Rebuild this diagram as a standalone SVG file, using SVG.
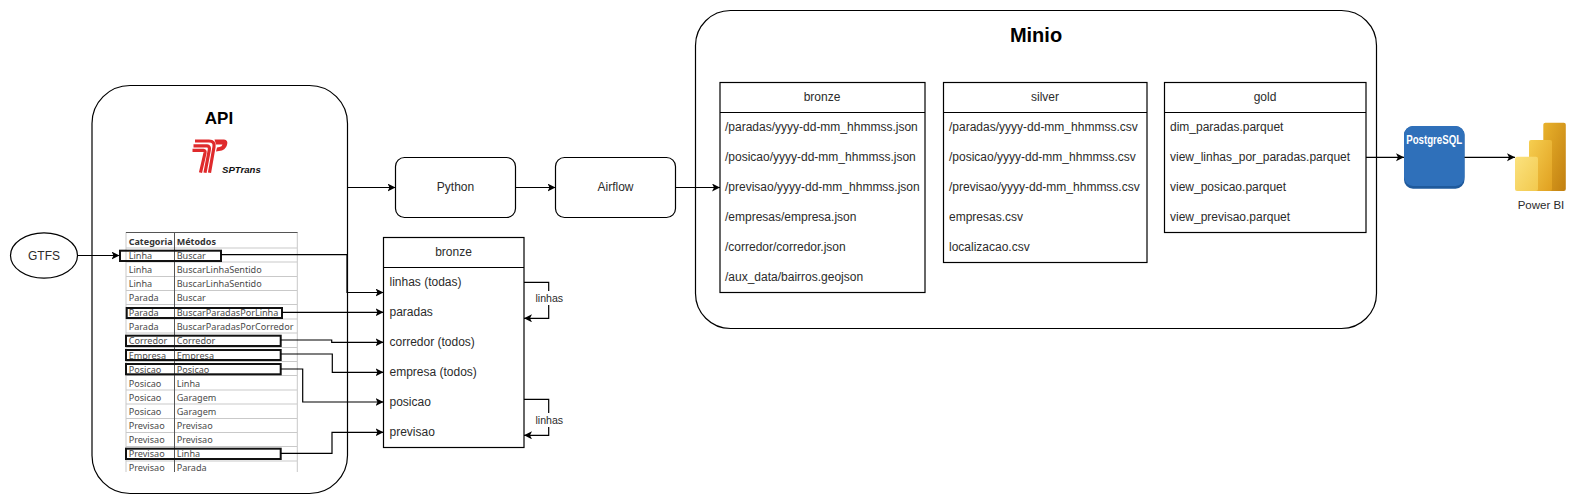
<svg xmlns="http://www.w3.org/2000/svg" width="1577" height="504" viewBox="0 0 1577 504">
<defs>
<style>
text{font-family:"Liberation Sans",Arial,sans-serif;font-size:12px;fill:#2b2b2b;dominant-baseline:central}
.c{text-anchor:middle}
.box{fill:#fff;stroke:#000;stroke-width:1.2}
.div{stroke:#000;stroke-width:1.2;fill:none}
.title{font-weight:bold;fill:#000}
.line{fill:none;stroke:#000;stroke-width:1.2;marker-end:url(#arrow)}
.lbl{font-size:10.6px}
.t{font-family:"Noto Sans","Open Sans",sans-serif;font-size:9.1px;fill:#4a4a4a}
.th{font-family:"Noto Sans","Open Sans",sans-serif;font-size:9px;font-weight:bold;fill:#333}
.grid{stroke:#c9c9c9;stroke-width:1;fill:none}
.hl{fill:none;stroke:#111;stroke-width:2}
.logo{fill:none;stroke:#df2a2c;stroke-width:3.2}
</style>
<marker id="arrow" markerUnits="userSpaceOnUse" markerWidth="9" markerHeight="9" refX="8" refY="4" orient="auto">
<path d="M8,4 L0,0 L2,4 L0,8 Z" fill="#000"/>
</marker>
<linearGradient id="pb1" x1="0" y1="0" x2="1" y2="1"><stop offset="0" stop-color="#e9b22c"/><stop offset="1" stop-color="#c17f10"/></linearGradient>
<linearGradient id="pb2" x1="0" y1="0" x2="1" y2="1"><stop offset="0" stop-color="#f6ce50"/><stop offset="1" stop-color="#e0a020"/></linearGradient>
<linearGradient id="pb3" x1="0" y1="0" x2="1" y2="1"><stop offset="0" stop-color="#fbe27e"/><stop offset="1" stop-color="#f2c94e"/></linearGradient>
</defs>
<rect width="1577" height="504" fill="#fff"/>

<g id="api">
<rect class="box" x="92" y="85.500" width="255.500" height="408" rx="38"/>
<text class="c title" x="219" y="118" style="font-size:17px">API</text>
<g id="sptrans-logo">
<path class="logo" d="M195,141 H209 Q215,141 214,147 L209.500,172.700"/>
<path class="logo" d="M193.500,145.800 H207 Q210,146 209.300,150 L205,172.700"/>
<path class="logo" d="M192.500,150.300 H203.500 Q205.500,150.500 205,153 L200.500,172.700"/>
<path d="M214.500,139.500 H224 Q228.500,140 227,145 Q225.500,150.500 219,151 L216,151.500 L217,147.500 L219.500,147 Q222,146.500 222.500,144.500 L216,144.500 Z" fill="#df2a2c"/>
<text x="222" y="169.500" style="font-size:9.600px;font-weight:bold;font-style:italic;fill:#111">SPTrans</text>
</g>
<g id="methods-table">
<path class="grid" d="M126,232 V472 M297.300,232 V472 M126,248 H297 M126,262 H297 M126,276.500 H297 M126,290.500 H297 M126,304.500 H297 M126,319 H297 M126,333 H297 M126,347.500 H297 M126,361.500 H297 M126,375.500 H297 M126,390 H297 M126,404 H297 M126,418.500 H297 M126,432.500 H297 M126,446.500 H297 M126,461 H297"/>
<path d="M126,232.500 H297.500 M174.500,232 V472" stroke="#555" stroke-width="1" fill="none"/>
<text class="th" x="128.700" y="241">Categoria</text><text class="th" x="176.700" y="241">Métodos</text>
<text class="t" x="128.700" y="255">Linha</text><text class="t" x="176.700" y="255">Buscar</text>
<text class="t" x="128.700" y="269.500">Linha</text><text class="t" x="176.700" y="269.500">BuscarLinhaSentido</text>
<text class="t" x="128.700" y="283.700">Linha</text><text class="t" x="176.700" y="283.700">BuscarLinhaSentido</text>
<text class="t" x="128.700" y="297.700">Parada</text><text class="t" x="176.700" y="297.700">Buscar</text>
<text class="t" x="128.700" y="312.300">Parada</text><text class="t" x="176.700" y="312.300">BuscarParadasPorLinha</text>
<text class="t" x="128.700" y="326.300">Parada</text><text class="t" x="176.700" y="326.300">BuscarParadasPorCorredor</text>
<text class="t" x="128.700" y="340.500">Corredor</text><text class="t" x="176.700" y="340.500">Corredor</text>
<text class="t" x="128.700" y="355">Empresa</text><text class="t" x="176.700" y="355">Empresa</text>
<text class="t" x="128.700" y="369">Posicao</text><text class="t" x="176.700" y="369">Posicao</text>
<text class="t" x="128.700" y="383.300">Posicao</text><text class="t" x="176.700" y="383.300">Linha</text>
<text class="t" x="128.700" y="397.300">Posicao</text><text class="t" x="176.700" y="397.300">Garagem</text>
<text class="t" x="128.700" y="411.700">Posicao</text><text class="t" x="176.700" y="411.700">Garagem</text>
<text class="t" x="128.700" y="425.700">Previsao</text><text class="t" x="176.700" y="425.700">Previsao</text>
<text class="t" x="128.700" y="439.300">Previsao</text><text class="t" x="176.700" y="439.300">Previsao</text>
<text class="t" x="128.700" y="453.700">Previsao</text><text class="t" x="176.700" y="453.700">Linha</text>
<text class="t" x="128.700" y="467.700">Previsao</text><text class="t" x="176.700" y="467.700">Parada</text>
<rect class="hl" x="120" y="250.700" width="101" height="10.300"/>
<rect class="hl" x="126.700" y="308" width="155.300" height="10"/>
<rect class="hl" x="126" y="335.700" width="154.700" height="10.300"/>
<rect class="hl" x="126" y="350" width="154.700" height="10"/>
<rect class="hl" x="126" y="364" width="154.700" height="10.300"/>
<rect class="hl" x="126" y="448.700" width="154.700" height="10.300"/>
</g>
</g>

<g id="gtfs">
<ellipse class="box" cx="44" cy="255.500" rx="33.500" ry="22.700"/>
<text class="c" x="44" y="255.500">GTFS</text>
</g>

<g id="bronze-api">
<rect class="box" x="383.500" y="237.500" width="140.500" height="210"/>
<path class="div" d="M383.500,267.500 H524"/>
<text class="c" x="453.500" y="252">bronze</text>
<text x="389.500" y="281.700">linhas (todas)</text>
<text x="389.500" y="311.700">paradas</text>
<text x="389.500" y="341.700">corredor (todos)</text>
<text x="389.500" y="371.700">empresa (todos)</text>
<text x="389.500" y="401.700">posicao</text>
<text x="389.500" y="431.700">previsao</text>
</g>

<g id="python"><rect class="box" x="395.500" y="157.500" width="120" height="60" rx="9"/><text class="c" x="455.500" y="187">Python</text></g>
<g id="airflow"><rect class="box" x="555.500" y="157.500" width="120" height="60" rx="9"/><text class="c" x="615.500" y="187">Airflow</text></g>

<g id="minio">
<rect class="box" x="695.500" y="10.500" width="681" height="318" rx="35"/>
<text class="c title" x="1036" y="35" style="font-size:20px">Minio</text>
</g>

<g id="bronze">
<rect class="box" x="720" y="82.500" width="205" height="210"/>
<path class="div" d="M720,112.500 H925"/>
<text class="c" x="822" y="96.500">bronze</text>
<text x="725" y="126.700">/paradas/yyyy-dd-mm_hhmmss.json</text>
<text x="725" y="156.700">/posicao/yyyy-dd-mm_hhmmss.json</text>
<text x="725" y="186.700">/previsao/yyyy-dd-mm_hhmmss.json</text>
<text x="725" y="216.700">/empresas/empresa.json</text>
<text x="725" y="246.700">/corredor/corredor.json</text>
<text x="725" y="276.700">/aux_data/bairros.geojson</text>
</g>

<g id="silver">
<rect class="box" x="943.500" y="82.500" width="203.500" height="180"/>
<path class="div" d="M943.500,112.500 H1147"/>
<text class="c" x="1045" y="96.500">silver</text>
<text x="949" y="126.700">/paradas/yyyy-dd-mm_hhmmss.csv</text>
<text x="949" y="156.700">/posicao/yyyy-dd-mm_hhmmss.csv</text>
<text x="949" y="186.700">/previsao/yyyy-dd-mm_hhmmss.csv</text>
<text x="949" y="216.700">empresas.csv</text>
<text x="949" y="246.700">localizacao.csv</text>
</g>

<g id="gold">
<rect class="box" x="1164.500" y="82.500" width="201.500" height="150"/>
<path class="div" d="M1164.500,112.500 H1366"/>
<text class="c" x="1265" y="96.500">gold</text>
<text x="1170" y="126.700">dim_paradas.parquet</text>
<text x="1170" y="156.700">view_linhas_por_paradas.parquet</text>
<text x="1170" y="186.700">view_posicao.parquet</text>
<text x="1170" y="216.700">view_previsao.parquet</text>
</g>

<g id="postgresql">
<rect x="1404" y="126" width="60.500" height="62.700" rx="9" fill="#1f5a9c"/>
<rect x="1404" y="126" width="60.500" height="60" rx="9" fill="#2f70ba"/>
<text class="c" x="1434.200" y="140" textLength="56" lengthAdjust="spacingAndGlyphs" style="font-size:12px;font-weight:bold;fill:#fff">PostgreSQL</text>
</g>

<g id="powerbi">
<rect x="1543.300" y="122.700" width="22.500" height="68.300" rx="2" fill="url(#pb1)"/>
<rect x="1529" y="140" width="23" height="51" rx="2" fill="url(#pb2)"/>
<rect x="1515" y="156.700" width="23" height="34.300" rx="2" fill="url(#pb3)"/>
<text class="c" x="1541" y="204.700" style="font-size:11.500px">Power BI</text>
</g>

<g id="connectors">
<path class="line" d="M77.500,255.500 H119.500"/>
<path class="line" d="M221,254.700 H347 V292.500 H383.500"/>
<path class="line" d="M282,312.300 H383.500"/>
<path class="line" d="M280.700,340 H331.700 V342.300 H383.500"/>
<path class="line" d="M280.700,354 H332.300 V372.300 H383.500"/>
<path class="line" d="M280.700,369 H302.700 V402 H383.500"/>
<path class="line" d="M280.700,453.300 H332 V432.300 H383.500"/>
<path class="line" d="M347.500,187.500 H395.500"/>
<path class="line" d="M515.500,187.500 H555.500"/>
<path class="line" d="M675.500,187.500 H720"/>
<path class="line" d="M1366,157.300 H1404"/>
<path class="line" d="M1464.500,157.300 H1515"/>
<path class="line" d="M524,282.300 H548.700 V318.300 H524"/>
<path class="line" d="M524,399.300 H548.700 V435.300 H524"/>
<rect x="535" y="291" width="29" height="14" fill="#fff"/>
<rect x="535" y="413" width="29" height="14" fill="#fff"/>
<text class="c lbl" x="549.300" y="298">linhas</text>
<text class="c lbl" x="549.300" y="420">linhas</text>
</g>
</svg>
